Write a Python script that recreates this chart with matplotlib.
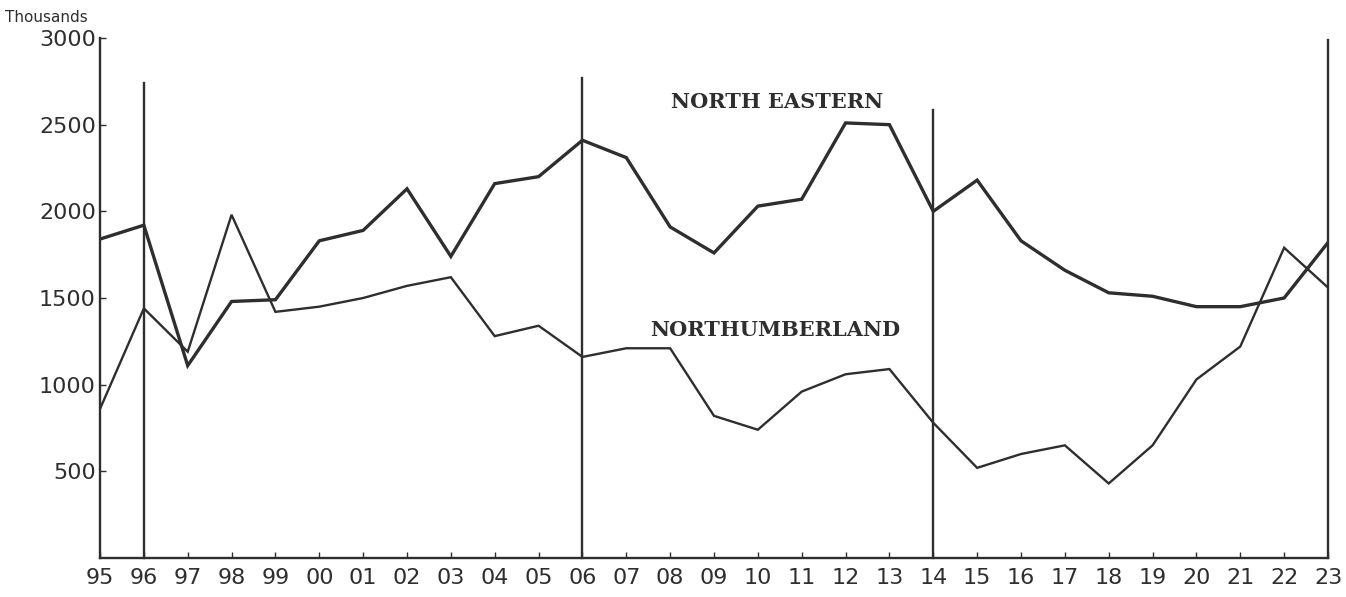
import matplotlib.pyplot as plt

# years shown on the axis (1895-1923)
years = ["95", "96", "97", "98", "99", "00", "01", "02", "03", "04", "05", "06", "07", "08",
         "09", "10", "11", "12", "13", "14", "15", "16", "17", "18", "19", "20", "21", "22", "23"]

# values in thousands
north_eastern = [1840, 1920, 1110, 1480, 1490, 1830, 1890, 2130, 1740, 2160, 2200, 2410, 2310, 1910,
                 1760, 2030, 2070, 2510, 2500, 2000, 2180, 1830, 1660, 1530, 1510, 1450, 1450, 1500, 1820]
northumberland = [860, 1440, 1190, 1980, 1420, 1450, 1500, 1570, 1620, 1280, 1340, 1160, 1210, 1210,
                  820, 740, 960, 1060, 1090, 780, 520, 600, 650, 430, 650, 1030, 1220, 1790, 1560]

# vertical divider lines: (year label, top value)
dividers = [("96", 2740), ("06", 2770), ("14", 2585), ("23", 2990)]

ink = "#2e2e2e"
x = list(range(len(years)))

fig = plt.figure(figsize=(13.46, 5.97), dpi=100)
ax = fig.add_axes([100 / 1346, 39 / 597, 1228 / 1346, 520 / 597])

ax.plot(x, north_eastern, color=ink, lw=2.4, solid_joinstyle="miter")
ax.plot(x, northumberland, color=ink, lw=1.7, solid_joinstyle="miter")

for lab, top in dividers:
    i = years.index(lab)
    ax.plot([i, i], [0, top], color=ink, lw=1.7, clip_on=False)

ax.set_xlim(0, len(years) - 1)
ax.set_ylim(0, 3000)
ax.set_xticks(x)
ax.set_xticklabels(years)
ax.set_yticks([500, 1000, 1500, 2000, 2500, 3000])
ax.set_yticklabels(["500", "1000", "1500", "2000", "2500", "3000"])
ax.tick_params(axis="both", direction="in", length=4, width=1, colors=ink,
               labelsize=16, pad=7)
ax.tick_params(axis="y", pad=3)

for s in ["top", "right"]:
    ax.spines[s].set_visible(False)
for s in ["left", "bottom"]:
    ax.spines[s].set_color(ink)
    ax.spines[s].set_linewidth(1.7)

ax.text(15.45, 2630, "NORTH EASTERN", fontsize=15, fontweight="bold",
        family="DejaVu Serif", color=ink, ha="center", va="center")
ax.text(15.4, 1315, "NORTHUMBERLAND", fontsize=15, fontweight="bold",
        family="DejaVu Serif", color=ink, ha="center", va="center")
fig.text(5 / 1346, 1 - 17 / 597, "Thousands", fontsize=11, color=ink,
         ha="left", va="center")

fig.savefig("out.png", dpi=100)
